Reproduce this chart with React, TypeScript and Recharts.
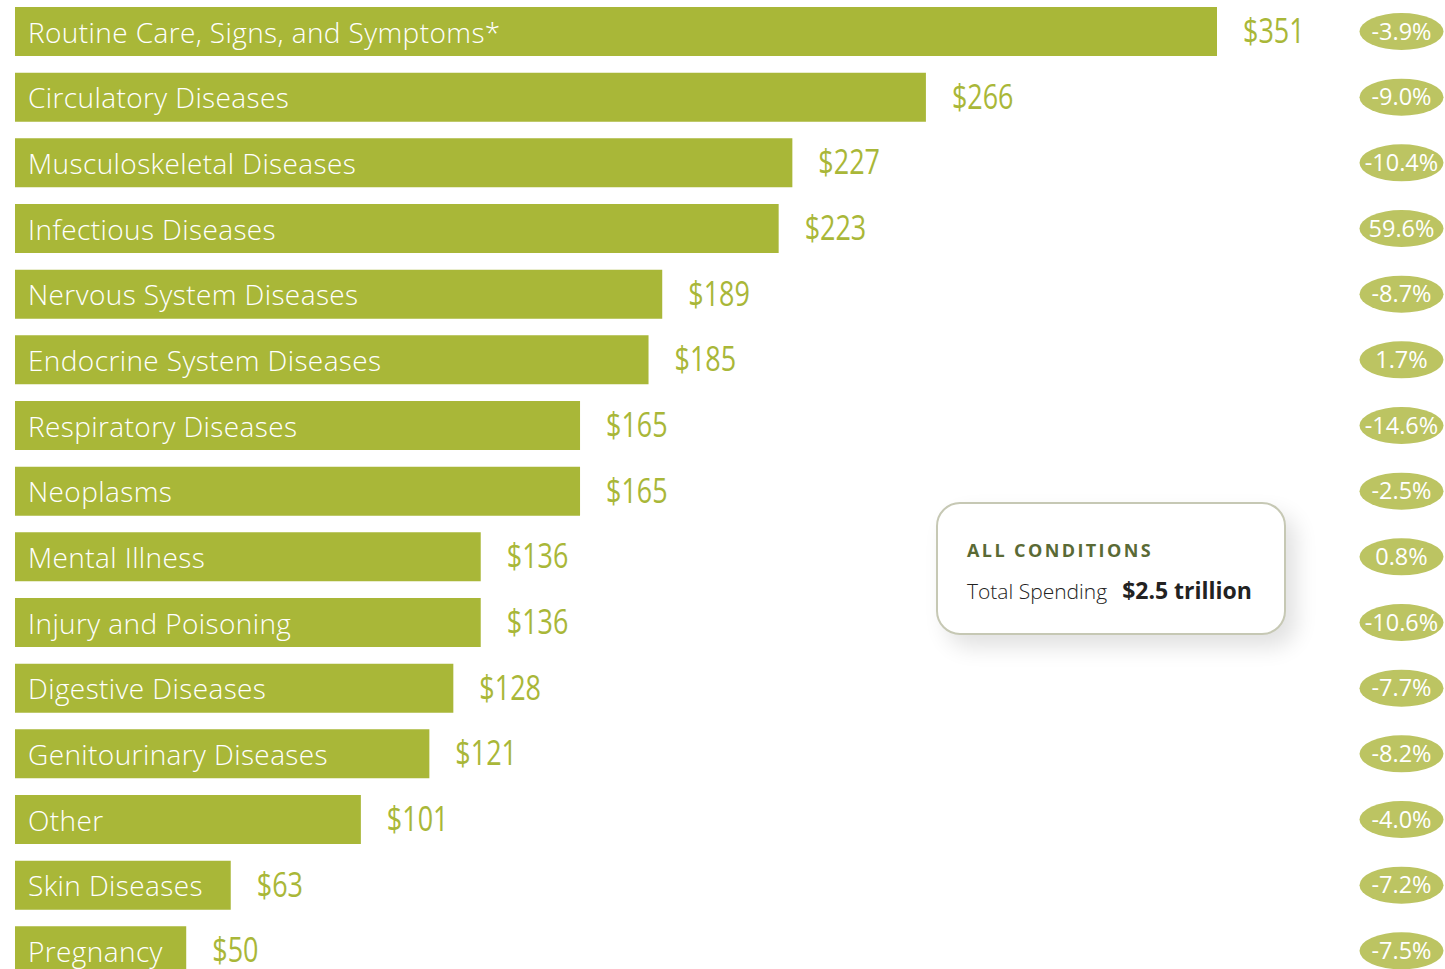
import React from "react";
import { BarChart, Bar, XAxis, YAxis, LabelList } from "recharts";

const categories = [
  "Routine Care, Signs, and Symptoms*",
  "Circulatory Diseases",
  "Musculoskeletal Diseases",
  "Infectious Diseases",
  "Nervous System Diseases",
  "Endocrine System Diseases",
  "Respiratory Diseases",
  "Neoplasms",
  "Mental Illness",
  "Injury and Poisoning",
  "Digestive Diseases",
  "Genitourinary Diseases",
  "Other",
  "Skin Diseases",
  "Pregnancy",
];
const spending = [351, 266, 227, 223, 189, 185, 165, 165, 136, 136, 128, 121, 101, 63, 50];
const changes = ["-3.9%", "-9.0%", "-10.4%", "59.6%", "-8.7%", "1.7%", "-14.6%", "-2.5%", "0.8%", "-10.6%", "-7.7%", "-8.2%", "-4.0%", "-7.2%", "-7.5%"];

const data = categories.map((name, i) => ({ name, value: spending[i], change: changes[i] }));

const BAR = "#a9b738";
const PILL = "#bcc462";
const PILL_CX = 1401.5;

const NameLabel = (p: any) => {
  const { x, y, height, value } = p;
  return (
    <text x={x + 13} y={y + height / 2} fill="#ffffff" fontFamily="'Open Sans', sans-serif" fontWeight={300} fontSize={28} letterSpacing={0.4} dominantBaseline="central">
      {value}
    </text>
  );
};

const ValueLabel = (p: any) => {
  const { x, y, width, height, value } = p;
  return (
    <g transform={`translate(${x + width + 26}, ${y + height / 2 - 2}) scale(0.77, 1)`}>
      <text x={0} y={0} fill={BAR} fontFamily="'Open Sans', sans-serif" fontSize={35} dominantBaseline="central">
        {"$" + value}
      </text>
    </g>
  );
};

const PillLabel = (p: any) => {
  const { y, height, value } = p;
  const cy = y + height / 2;
  return (
    <g>
      <ellipse cx={PILL_CX} cy={cy} rx={42} ry={18.5} fill={PILL} />
      <text x={PILL_CX} y={cy - 1} fill="#ffffff" fontFamily="'Open Sans', sans-serif" fontSize={23.5} textAnchor="middle" dominantBaseline="central">
        {value}
      </text>
    </g>
  );
};

export default function App() {
  return (
    <div style={{ position: "absolute", left: 0, top: -1, width: 1445, height: 985 }}>
      <BarChart
        width={1445}
        height={985}
        data={data}
        layout="vertical"
        margin={{ top: 0, right: 60.2, bottom: 0, left: 15 }}
        style={{ overflow: "visible" }}
      >
        <XAxis type="number" domain={[0, 400]} hide />
        <YAxis type="category" dataKey="name" hide />
        <Bar dataKey="value" fill={BAR} barSize={49} isAnimationActive={false}>
          <LabelList dataKey="name" content={NameLabel} />
          <LabelList dataKey="value" content={ValueLabel} />
          <LabelList dataKey="change" content={PillLabel} />
        </Bar>
      </BarChart>
      <div
        style={{
          position: "absolute",
          left: 936,
          top: 503,
          width: 346,
          height: 129,
          border: "2px solid #c6c8b4",
          borderRadius: 24,
          background: "#ffffff",
          boxShadow: "10px 12px 22px rgba(0,0,0,0.12)",
          boxSizing: "content-box",
        }}
      >
        <div
          style={{
            position: "absolute",
            left: 29,
            top: 34,
            fontFamily: "'Open Sans', sans-serif",
            fontWeight: 700,
            fontSize: 18,
            letterSpacing: 2.4,
            color: "#5a6a35",
            whiteSpace: "nowrap",
          }}
        >
          ALL CONDITIONS
        </div>
        <div
          style={{
            position: "absolute",
            left: 29,
            top: 70,
            fontFamily: "'Open Sans', sans-serif",
            fontSize: 21,
            color: "#222222",
            whiteSpace: "nowrap",
          }}
        >
          <span style={{ fontWeight: 300 }}>Total Spending</span>
          <span style={{ fontWeight: 700, marginLeft: 15, fontSize: 23 }}>$2.5 trillion</span>
        </div>
      </div>
    </div>
  );
}
